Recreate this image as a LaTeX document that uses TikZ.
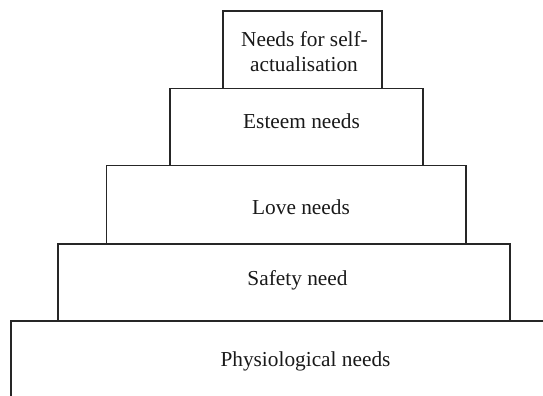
\documentclass[tikz,border=0pt]{standalone}
\usepackage{fontspec}
\setmainfont{Liberation Serif}
\begin{document}
\begin{tikzpicture}[x=1bp,y=-1bp,
  level/.style={draw=black!85,line width=1.6bp},
  lbl/.style={inner sep=0pt,anchor=base,text=black!90,font=\fontsize{21.4}{24.5}\selectfont}]
\useasboundingbox (0,0) rectangle (543,395);
\clip (0,0) rectangle (543,395);
% pyramid levels, bottom to top
\draw[level] (11,321) rectangle (570,420);
\draw[level] (58,244) rectangle (510,321);
\draw[level] (106.5,165.5) rectangle (466,244);
\draw[level] (170,88.5) rectangle (423,165.5);
\draw[level] (223,11) rectangle (382,88.5);
% labels
\node[lbl] (physio) at (305.5,366.7) {Physiological needs};
\node[lbl] (safety) at (297.5,285) {Safety need};
\node[lbl] (love) at (301,214.3) {Love needs};
\node[lbl] (esteem) at (301.5,128) {Esteem needs};
\node[lbl] (self1) at (304.5,46.7) {Needs for self-};
\node[lbl] (self2) at (304,71) {actualisation};
\end{tikzpicture}
\end{document}
